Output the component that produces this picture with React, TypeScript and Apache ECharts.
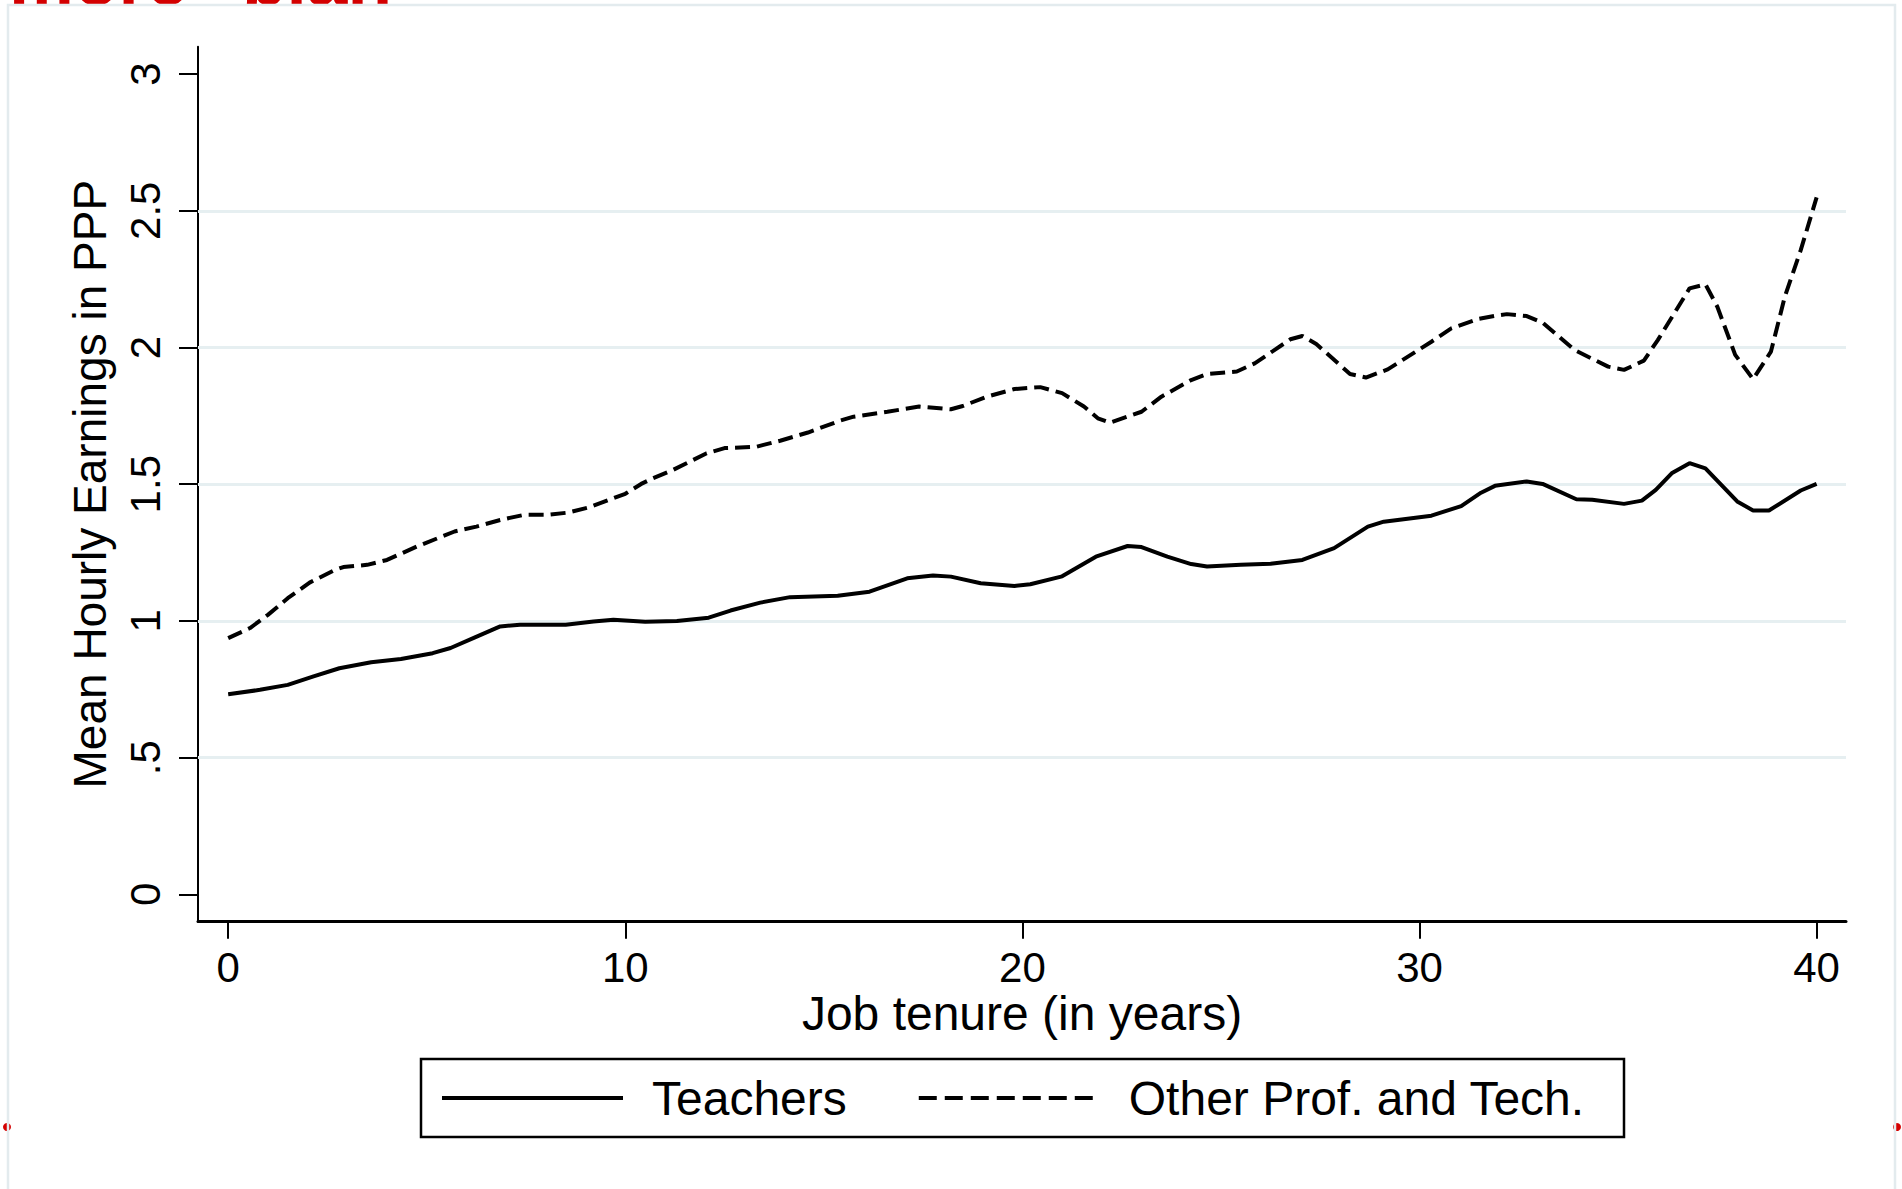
import React, { useEffect, useRef } from "react";
import * as echarts from "echarts";

const teacherTenure = [0, 0.8, 1.5, 2.15, 2.8, 3.6, 4.35, 5.15, 5.6, 6.2, 6.85, 7.35, 8.5, 9.2, 9.7, 10.5, 11.3, 12.1, 12.65, 13.4, 14.15, 15.35, 16.15, 17.1, 17.75, 18.2, 18.95, 19.8, 20.2, 21.0, 21.85, 22.65, 23.0, 23.65, 24.25, 24.65, 25.5, 26.25, 27.05, 27.85, 28.7, 29.1, 30.3, 31.05, 31.55, 31.9, 32.7, 33.1, 33.95, 34.35, 35.15, 35.6, 35.95, 36.35, 36.8, 37.2, 38.0, 38.4, 38.8, 39.6, 40.0];
const teacherEarnings = [0.732, 0.748, 0.766, 0.797, 0.827, 0.849, 0.861, 0.882, 0.901, 0.939, 0.98, 0.986, 0.986, 0.998, 1.004, 0.997, 1.0, 1.012, 1.038, 1.067, 1.087, 1.092, 1.107, 1.156, 1.166, 1.162, 1.138, 1.128, 1.134, 1.163, 1.235, 1.274, 1.27, 1.235, 1.208, 1.199, 1.205, 1.209, 1.223, 1.266, 1.345, 1.363, 1.385, 1.42, 1.469, 1.494, 1.51, 1.501, 1.445, 1.443, 1.428, 1.44, 1.479, 1.54, 1.577, 1.558, 1.437, 1.404, 1.404, 1.477, 1.501];

const otherTenure = [0, 0.55, 1.0, 1.5, 2.05, 2.65, 2.9, 3.5, 4.0, 4.75, 5.7, 6.25, 6.85, 7.45, 8.05, 8.55, 9.05, 9.7, 10.0, 10.4, 10.7, 11.2, 12.05, 12.5, 13.3, 13.9, 14.6, 15.4, 15.75, 16.6, 17.4, 18.2, 18.5, 19.1, 19.8, 20.45, 21.0, 21.55, 21.9, 22.2, 23.0, 23.5, 24.25, 24.65, 25.4, 25.85, 26.75, 27.05, 27.4, 28.25, 28.65, 29.2, 30.3, 30.8, 31.5, 31.9, 32.2, 32.7, 33.1, 33.9, 34.75, 35.15, 35.65, 36.0, 36.8, 37.2, 37.5, 37.95, 38.4, 38.85, 39.2, 39.6, 40.0];
const otherEarnings = [0.937, 0.974, 1.022, 1.083, 1.14, 1.184, 1.197, 1.205, 1.223, 1.272, 1.327, 1.345, 1.369, 1.388, 1.388, 1.396, 1.414, 1.449, 1.465, 1.501, 1.522, 1.552, 1.613, 1.632, 1.637, 1.659, 1.689, 1.732, 1.747, 1.765, 1.784, 1.774, 1.786, 1.82, 1.848, 1.855, 1.833, 1.784, 1.741, 1.725, 1.765, 1.82, 1.881, 1.903, 1.912, 1.942, 2.03, 2.042, 2.013, 1.903, 1.89, 1.92, 2.021, 2.07, 2.105, 2.116, 2.122, 2.115, 2.091, 1.991, 1.93, 1.918, 1.952, 2.027, 2.216, 2.231, 2.149, 1.973, 1.884, 1.985, 2.186, 2.356, 2.549];

const xTicks = [0, 10, 20, 30, 40];
const yTicks = [0, 0.5, 1, 1.5, 2, 2.5, 3];
const gridValues = [0.5, 1, 1.5, 2, 2.5];

const seriesNames = ["Teachers", "Other Prof. and Tech."];
const xTitle = "Job tenure (in years)";
const yTitle = "Mean Hourly Earnings in PPP";

const FONT = '"Liberation Sans", Arial, Helvetica, sans-serif';

function fmtY(v: number): string {
  if (v === 0) return "0";
  return String(v).replace(/^0\./, ".");
}

export default function App() {
  const ref = useRef<HTMLDivElement>(null);

  useEffect(() => {
    if (!ref.current) return;
    const chart = echarts.init(ref.current, null, { renderer: "svg" });

    const option: any = {
      animation: false,
      backgroundColor: "#ffffff",
      grid: {
        left: 198,
        top: 46.7,
        width: 1648,
        height: 875,
        containLabel: false,
        outerBoundsMode: "none",
      },
      xAxis: {
        type: "value",
        min: -0.76,
        max: 40.74,
        axisLine: { show: true, onZero: false, lineStyle: { color: "#000", width: 3 } },
        axisTick: { show: true, length: 17, customValues: xTicks, lineStyle: { color: "#000", width: 2 } },
        axisLabel: {
          customValues: xTicks,
          margin: 46,
          verticalAlign: "middle",
          fontSize: 42,
          fontFamily: FONT,
          color: "#000",
        },
        splitLine: { show: false },
        name: xTitle,
        nameLocation: "middle",
        nameGap: 92,
        nameMoveOverlap: false,
        nameTextStyle: { fontSize: 48, fontFamily: FONT, color: "#000", verticalAlign: "middle" },
      },
      yAxis: {
        type: "value",
        min: -0.1,
        max: 3.1,
        axisLine: { show: true, onZero: false, lineStyle: { color: "#000", width: 2 } },
        axisTick: { show: true, length: 19, customValues: yTicks, lineStyle: { color: "#000", width: 2 } },
        axisLabel: {
          customValues: yTicks,
          rotate: 90,
          margin: 53,
          verticalAlign: "middle",
          fontSize: 42,
          fontFamily: FONT,
          color: "#000",
          formatter: (v: number) => fmtY(v),
        },
        splitLine: { show: false },
        name: yTitle,
        nameLocation: "middle",
        nameGap: 108,
        nameMoveOverlap: false,
        nameTextStyle: { fontSize: 46, fontFamily: FONT, color: "#000", verticalAlign: "middle" },
      },
      legend: {
        left: 440,
        top: 1073,
        padding: 0,
        itemWidth: 181,
        itemHeight: 20,
        itemGap: 70,
        textStyle: { fontSize: 48, fontFamily: FONT, color: "#000", padding: [0, 0, 0, 24], lineHeight: 50 },
        itemStyle: { opacity: 0 },
        lineStyle: { width: 4 },
        data: [
          { name: seriesNames[0], lineStyle: { width: 4, type: "solid" } },
          { name: seriesNames[1], lineStyle: { width: 4, type: [18, 8] } },
        ],
      },
      graphic: [
        {
          type: "rect",
          z: -10,
          shape: { x: 8, y: 5, width: 1887, height: 1250 },
          style: { fill: "none", stroke: "#e3ebee", lineWidth: 2.5 },
        },
        { type: "circle", z: -11, shape: { cx: 7, cy: 1127, r: 4 }, style: { fill: "#d40000" } },
        { type: "circle", z: -11, shape: { cx: 1897, cy: 1127, r: 4 }, style: { fill: "#d40000" } },
        {
          type: "text",
          z: -12,
          x: 9,
          y: -21,
          style: { text: "more", fill: "#d40000", font: 'bold 73px "Liberation Sans", Arial, sans-serif', verticalAlign: "middle" },
        },
        {
          type: "text",
          z: -12,
          x: 242,
          y: -21,
          style: { text: "blah", fill: "#d40000", font: 'bold 73px "Liberation Sans", Arial, sans-serif', verticalAlign: "middle" },
        },
        {
          type: "rect",
          z: 0,
          shape: { x: 421, y: 1059, width: 1203, height: 78 },
          style: { fill: "#ffffff", stroke: "#000", lineWidth: 2.5 },
        },
      ],
      series: [
        {
          name: seriesNames[0],
          type: "line",
          symbol: "none",
          showSymbol: false,
          smooth: false,
          z: 3,
          lineStyle: { color: "#000", width: 4, type: "solid" },
          itemStyle: { color: "#000" },
          data: teacherTenure.map((t, i) => [t, teacherEarnings[i]]),
          markLine: {
            silent: true,
            symbol: "none",
            z: 1,
            label: { show: false },
            lineStyle: { color: "#e6eff1", width: 3, type: "solid" },
            emphasis: { disabled: true },
            data: gridValues.map((v) => ({ yAxis: v })),
          },
        },
        {
          name: seriesNames[1],
          type: "line",
          symbol: "none",
          showSymbol: false,
          smooth: false,
          z: 3,
          lineStyle: { color: "#000", width: 4, type: [15, 7] },
          itemStyle: { color: "#000" },
          data: otherTenure.map((t, i) => [t, otherEarnings[i]]),
        },
      ],
    };

    chart.setOption(option);
    return () => {
      chart.dispose();
    };
  }, []);

  return (
    <div
      ref={ref}
      style={{ position: "absolute", left: 0, top: 0, width: 1902, height: 1189, background: "#fff" }}
    />
  );
}
